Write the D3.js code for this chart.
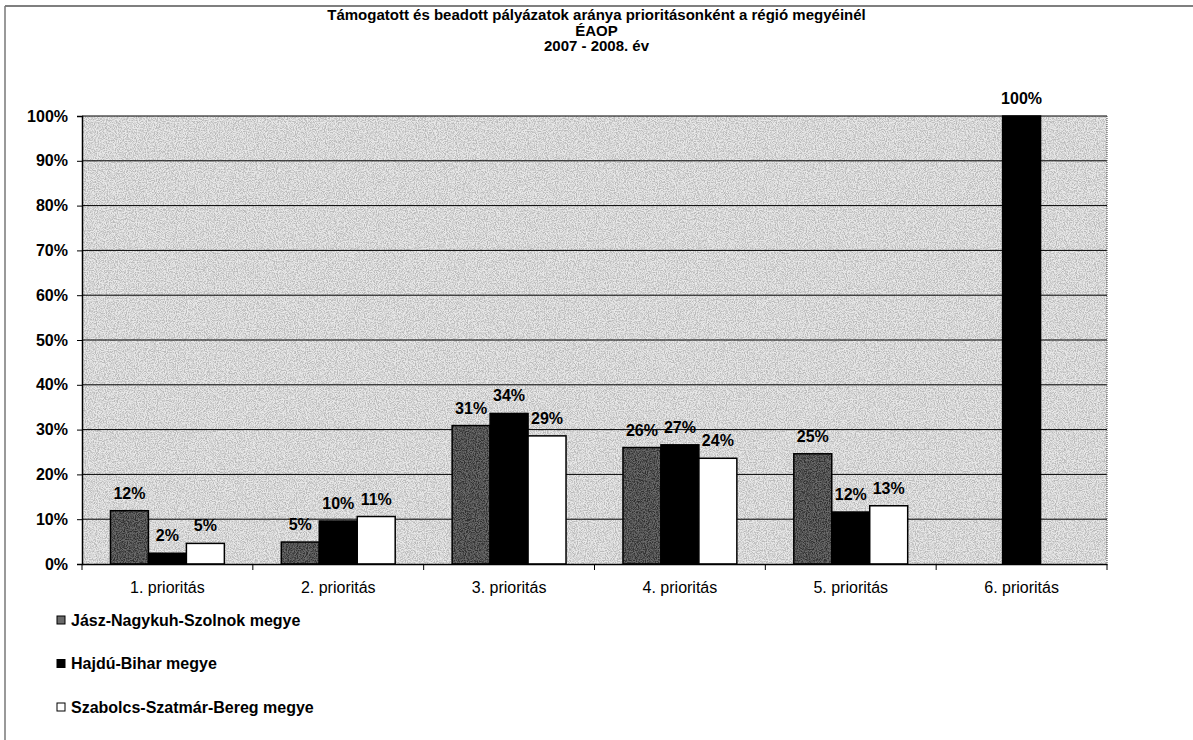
<!DOCTYPE html>
<html>
<head>
<meta charset="utf-8">
<script src="https://cdn.jsdelivr.net/npm/d3@7/dist/d3.min.js"></script>
<style>
  body { margin: 0; background: #fff; }
  text { font-family: "Liberation Sans", Arial, sans-serif; fill: #000; }
</style>
</head>
<body>
<div id="chart"></div>
<script>
var categories = ["1. prioritás", "2. prioritás", "3. prioritás", "4. prioritás", "5. prioritás", "6. prioritás"];
var seriesNames = ["Jász-Nagykuh-Szolnok megye", "Hajdú-Bihar megye", "Szabolcs-Szatmár-Bereg megye"];
var jaszValues = [0.119, 0.049, 0.309, 0.260, 0.246, 0];
var hajduValues = [0.024, 0.096, 0.336, 0.266, 0.116, 1.0];
var szabolcsValues = [0.046, 0.106, 0.286, 0.236, 0.130, 0];
var yTicks = [0, 0.1, 0.2, 0.3, 0.4, 0.5, 0.6, 0.7, 0.8, 0.9, 1.0];
var titleLines = ["Támogatott és beadott pályázatok aránya prioritásonként a régió megyéinél", "ÉAOP", "2007 - 2008. év"];

var seriesValues = [jaszValues, hajduValues, szabolcsValues];
var seriesFill = ["#6a6a6a", "#000", "#fff"];

var W = 1193, H = 740;
var margin = {top: 116, right: 86, bottom: 176, left: 82},
    width = W - margin.left - margin.right,
    height = H - margin.top - margin.bottom;

var svg = d3.select("#chart")
  .append("svg")
    .attr("width", W)
    .attr("height", H);

// speckled fill like the scanned original
var defs = svg.append("defs");
var f = defs.append("filter").attr("id", "grain")
  .attr("x", 0).attr("y", 0).attr("width", 1).attr("height", 1);
f.append("feTurbulence")
  .attr("type", "fractalNoise")
  .attr("baseFrequency", 0.9)
  .attr("numOctaves", 2)
  .attr("seed", 4)
  .attr("result", "noise");
f.append("feColorMatrix")
  .attr("in", "noise")
  .attr("type", "matrix")
  .attr("values", "0 0 0 0 0  0 0 0 0 0  0 0 0 0 0  3.2 0 0 0 -1.2");
f.append("feComposite").attr("in2", "SourceGraphic").attr("operator", "in");

// outer frame
svg.append("line").attr("x1", 5).attr("x2", W).attr("y1", 6).attr("y2", 6)
  .attr("stroke", "#555").attr("stroke-width", 1.5);
svg.append("line").attr("x1", 5).attr("x2", 5).attr("y1", 6).attr("y2", H)
  .attr("stroke", "#777").attr("stroke-width", 1.5);

// title
svg.append("text")
  .attr("x", W / 2)
  .attr("y", 20)
  .style("text-anchor", "middle")
  .style("font-weight", "bold")
  .style("font-size", "15px")
  .selectAll("tspan")
  .data(titleLines)
  .enter()
  .append("tspan")
    .attr("x", W / 2)
    .attr("dy", function(d, i) { return i === 0 ? 0 : 15.5; })
    .text(function(d) { return d; });

var g = svg.append("g")
  .attr("transform", "translate(" + margin.left + "," + margin.top + ")");

var x0 = d3.scaleBand()
  .domain(categories)
  .range([0, width])
  .padding(0);

var x1 = d3.scaleBand()
  .domain(d3.range(seriesNames.length))
  .range([0, x0.bandwidth()])
  .paddingInner(0)
  .paddingOuter(0.75);

var y = d3.scaleLinear()
  .domain([0, 1])
  .range([height, 0]);

// plot background
g.append("rect")
  .attr("width", width)
  .attr("height", height)
  .attr("fill", "#e9e9e9");
g.append("rect")
  .attr("width", width)
  .attr("height", height)
  .attr("fill", "#000")
  .attr("filter", "url(#grain)")
  .attr("opacity", 0.2);

// gridlines
g.append("g")
  .selectAll("line")
  .data(yTicks.slice(1))
  .enter()
  .append("line")
    .attr("x1", 0)
    .attr("x2", width)
    .attr("y1", function(d) { return y(d); })
    .attr("y2", function(d) { return y(d); })
    .attr("stroke", "#000")
    .attr("stroke-width", 1);

g.append("line")
  .attr("x1", width).attr("x2", width)
  .attr("y1", 0).attr("y2", height)
  .attr("stroke", "#444")
  .attr("stroke-dasharray", "1,1");

// bars
var data = [];
categories.forEach(function(c, i) {
  seriesValues.forEach(function(vals, s) {
    data.push({cat: c, s: s, v: vals[i]});
  });
});

var bars = g.append("g").selectAll("g")
  .data(data.filter(function(d) { return d.v > 0; }))
  .enter()
  .append("g");

bars.append("rect")
  .attr("x", function(d) { return x0(d.cat) + x1(d.s); })
  .attr("y", function(d) { return y(d.v); })
  .attr("width", x1.bandwidth())
  .attr("height", function(d) { return height - y(d.v); })
  .attr("fill", function(d) { return seriesFill[d.s]; })
  .attr("stroke", "#000")
  .attr("stroke-width", 1.5);

bars.filter(function(d) { return d.s === 0; })
  .append("rect")
  .attr("x", function(d) { return x0(d.cat) + x1(d.s); })
  .attr("y", function(d) { return y(d.v); })
  .attr("width", x1.bandwidth())
  .attr("height", function(d) { return height - y(d.v); })
  .attr("fill", "#000")
  .attr("filter", "url(#grain)")
  .attr("opacity", 0.55);

bars.append("text")
  .attr("x", function(d) { return x0(d.cat) + x1(d.s) + x1.bandwidth() / 2; })
  .attr("y", function(d) { return y(d.v) - 12; })
  .style("text-anchor", "middle")
  .style("font-size", "16px")
  .style("font-weight", "bold")
  .text(function(d) { return d3.format(".0%")(d.v); });

// y axis
var yAxis = g.append("g")
  .call(d3.axisLeft(y).tickValues(yTicks).tickFormat(d3.format(".0%")).tickSize(5).tickPadding(9));
yAxis.select(".domain").attr("stroke", "#000").attr("stroke-width", 1.5);
yAxis.selectAll("text")
  .style("font-size", "16px")
  .style("font-weight", "bold")
  .attr("font-family", null);

// x axis
var xAxis = g.append("g")
  .attr("transform", "translate(0," + height + ")")
  .call(d3.axisBottom(x0).tickSize(0).tickPadding(18));
xAxis.select(".domain").attr("stroke", "#000").attr("stroke-width", 1.5);
xAxis.selectAll("text")
  .style("font-size", "16px")
  .attr("font-family", null);
xAxis.selectAll(".sep")
  .data(d3.range(categories.length + 1))
  .enter()
  .append("line")
    .attr("x1", function(i) { return i * x0.step(); })
    .attr("x2", function(i) { return i * x0.step(); })
    .attr("y1", 0)
    .attr("y2", 6)
    .attr("stroke", "#000");

// legend
var legend = svg.append("g")
  .selectAll("g")
  .data(seriesNames)
  .enter()
  .append("g")
    .attr("transform", function(d, i) { return "translate(57," + (620 + i * 43.5) + ")"; });

legend.append("rect")
  .attr("x", 0)
  .attr("y", -4)
  .attr("width", 8)
  .attr("height", 8)
  .attr("fill", function(d, i) { return seriesFill[i]; })
  .attr("stroke", "#000")
  .attr("stroke-width", 1);

legend.append("text")
  .attr("x", 14)
  .attr("dy", "0.35em")
  .style("font-size", "16px")
  .style("font-weight", "bold")
  .text(function(d) { return d; });
</script>
</body>
</html>
